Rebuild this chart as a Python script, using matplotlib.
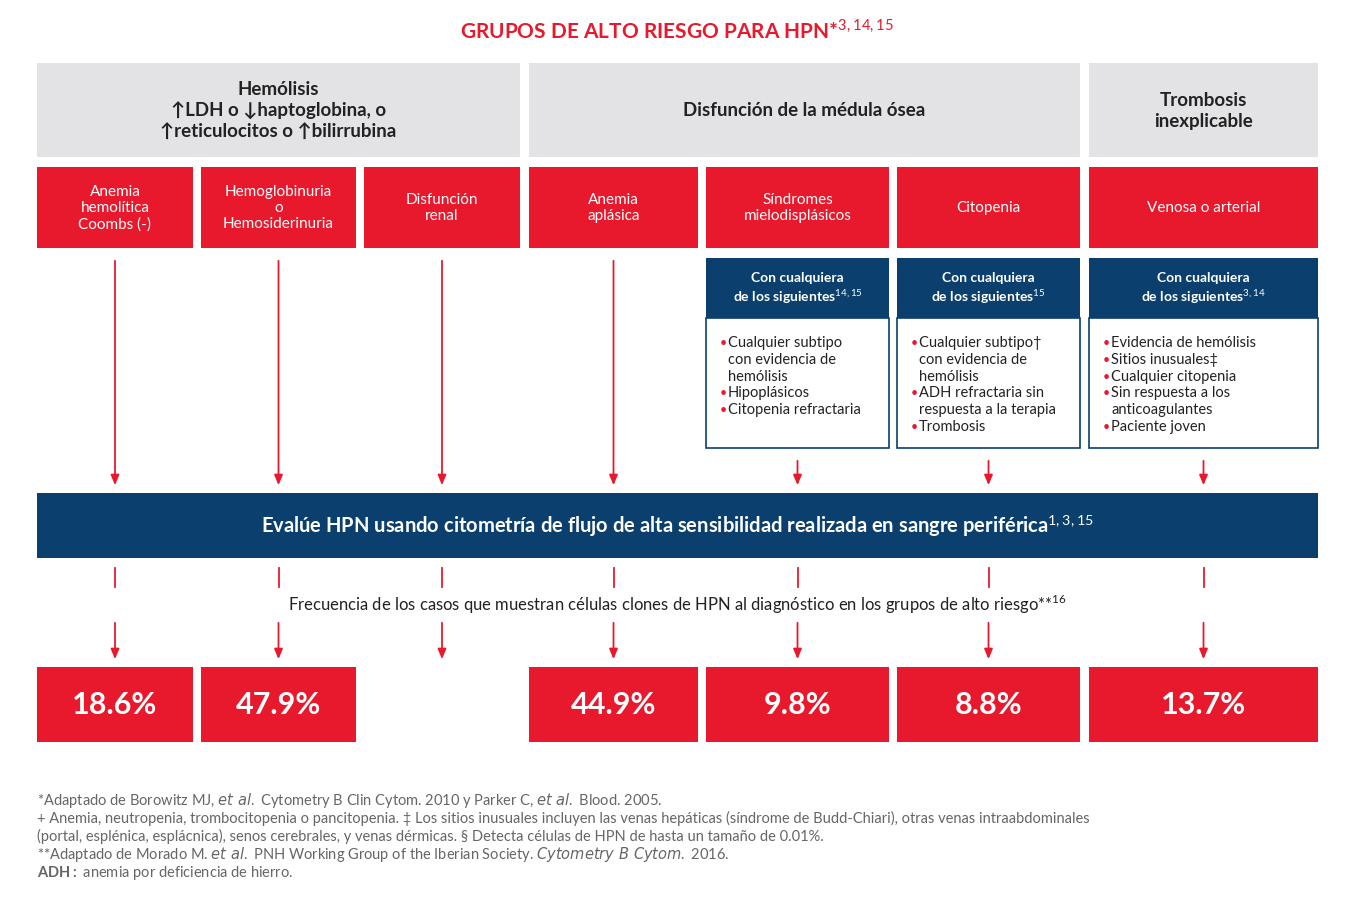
import matplotlib
matplotlib.use("Agg")
import matplotlib.pyplot as plt
from matplotlib.patches import Rectangle

plt.rcParams['font.family'] = ['Lato', 'DejaVu Sans']
plt.rcParams['mathtext.fontset'] = 'custom'
plt.rcParams['mathtext.rm'] = 'Lato'
plt.rcParams['mathtext.bf'] = 'Lato:bold'

RED = "#E8192C"
NAVY = "#0B3F6E"
GREY = "#E3E3E5"
TXT = "#222222"

# Data
groups = ["Hemólisis\n↑LDH o ↓haptoglobina, o\n↑reticulocitos o ↑bilirrubina",
          "Disfunción de la médula ósea", "Trombosis\ninexplicable"]
categories = ["Anemia\nhemolítica\nCoombs (-)", "Hemoglobinuria\no\nHemosiderinuria",
              "Disfunción\nrenal", "Anemia\naplásica", "Síndromes\nmielodisplásicos",
              "Citopenia", "Venosa o arterial"]
frequencies = [18.6, 47.9, None, 44.9, 9.8, 8.8, 13.7]
criteria_titles = [None, None, None, None,
                   r"Con cualquiera" "\n" r"de los siguientes$^{14,15}$",
                   r"Con cualquiera" "\n" r"de los siguientes$^{15}$",
                   r"Con cualquiera" "\n" r"de los siguientes$^{3,14}$"]
criteria = [None, None, None, None,
            ["Cualquier subtipo\ncon evidencia de\nhemólisis", "Hipoplásicos", "Citopenia refractaria"],
            ["Cualquier subtipo†\ncon evidencia de\nhemólisis", "ADH refractaria sin\nrespuesta a la terapia", "Trombosis"],
            ["Evidencia de hemólisis", "Sitios inusuales‡", "Cualquier citopenia",
             "Sin respuesta a los\nanticoagulantes", "Paciente joven"]]

cols = [(37, 193), (201, 356), (364, 520), (529, 698), (706, 889), (897, 1080), (1089, 1318)]
group_spans = [(37, 520), (529, 1080), (1089, 1318)]

fig = plt.figure(figsize=(13.55, 9.11), dpi=100)
ax = fig.add_axes([0, 0, 1, 1])
ax.set_xlim(0, 1355)
ax.set_ylim(911, 0)
ax.axis("off")

def box(x0, y0, x1, y1, fc, ec="none", lw=0):
    ax.add_patch(Rectangle((x0, y0), x1 - x0, y1 - y0, fc=fc, ec=ec, lw=lw))

def arrow(x, y0, y1):
    ax.annotate("", xy=(x, y1), xytext=(x, y0),
                arrowprops=dict(arrowstyle="-|>,head_length=0.6,head_width=0.25", color=RED, lw=1.3))

ax.text(677, 31, r"GRUPOS DE ALTO RIESGO PARA HPN*$^{3,14,15}$", color=RED, fontsize=15,
        fontweight="bold", ha="center", va="center")

for (x0, x1), g in zip(group_spans, groups):
    box(x0, 63, x1, 157, GREY)
    ax.text((x0 + x1) / 2, 111, g, ha="center", va="center", fontsize=13.5, fontweight="bold",
            color=TXT, linespacing=1.25)

for i, ((x0, x1), c) in enumerate(zip(cols, categories)):
    xc = (x0 + x1) / 2
    box(x0, 167, x1, 248, RED)
    ax.text(xc, 208, c, ha="center", va="center", fontsize=11, color="white", linespacing=1.2)
    if criteria[i] is None:
        arrow(xc, 258, 488)
    else:
        box(x0, 258, x1, 318, NAVY)
        ax.text(xc, 289, criteria_titles[i], ha="center", va="center", fontsize=10,
                fontweight="bold", color="white", linespacing=1.3)
        box(x0, 318, x1, 448, "white", ec=NAVY, lw=1.2)
        lines = []
        for item in criteria[i]:
            parts = item.split("\n")
            lines.append("• " + parts[0])
            lines += ["   " + p for p in parts[1:]]
        y = 343
        for ln in lines:
            if ln.startswith("•"):
                ax.text(x0 + 14, y, "•", color=RED, fontsize=9, va="center")
                ax.text(x0 + 22, y, ln[2:], color=TXT, fontsize=10.5, va="center")
            else:
                ax.text(x0 + 22, y, ln.strip(), color=TXT, fontsize=10.5, va="center")
            y = y + 16.8 if i != 6 else y + 16.8
        arrow(xc, 458, 488)
    # bottom connectors
    ax.plot([xc, xc], [568, 587], color=RED, lw=1.3)
    arrow(xc, 620, 662)
    if frequencies[i] is not None:
        box(x0, 667, x1, 742, RED)
        ax.text(xc, 705, f"{frequencies[i]:.1f}%", ha="center", va="center", fontsize=22,
                fontweight="bold", color="white")

box(37, 493, 1318, 558, NAVY)
ax.text(677, 526, r"Evalúe HPN usando citometría de flujo de alta sensibilidad realizada en sangre periférica$^{1,3,15}$",
        ha="center", va="center", fontsize=14.5, fontweight="bold", color="white")
ax.text(677, 604, r"Frecuencia de los casos que muestran células clones de HPN al diagnóstico en los grupos de alto riesgo**$^{16}$",
        ha="center", va="center", fontsize=12, color=TXT)

FOOT = "#666666"
fs = 10.5
ax.text(37, 800, r"*Adaptado de Borowitz MJ, $\it{et\ al.}$ Cytometry B Clin Cytom. 2010 y Parker C, $\it{et\ al.}$ Blood. 2005.",
        fontsize=fs, color=FOOT, va="center")
ax.text(37, 818, "+ Anemia, neutropenia, trombocitopenia o pancitopenia. ‡ Los sitios inusuales incluyen las venas hepáticas (síndrome de Budd-Chiari), otras venas intraabdominales",
        fontsize=fs, color=FOOT, va="center")
ax.text(37, 836, "(portal, esplénica, esplácnica), senos cerebrales, y venas dérmicas. § Detecta células de HPN de hasta un tamaño de 0.01%.",
        fontsize=fs, color=FOOT, va="center")
ax.text(37, 855, r"**Adaptado de Morado M. $\it{et\ al.}$ PNH Working Group of the Iberian Society. $\it{Cytometry\ B\ Cytom.}$ 2016.",
        fontsize=fs, color=FOOT, va="center")
ax.text(37, 873, r"$\bf{ADH:}$ anemia por deficiencia de hierro.", fontsize=fs, color=FOOT, va="center")

fig.savefig("out.png", dpi=100)
